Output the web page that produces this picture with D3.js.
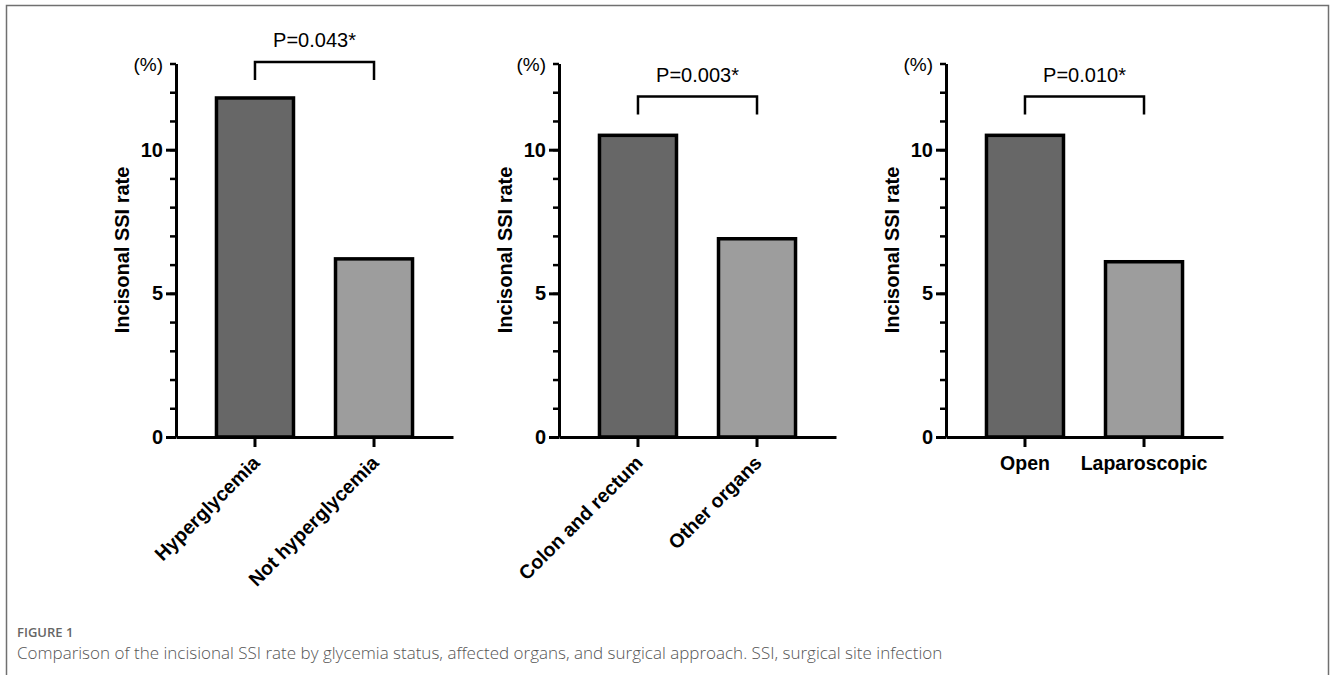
<!DOCTYPE html>
<html>
<head>
<meta charset="utf-8">
<script src="https://cdn.jsdelivr.net/npm/d3@7"></script>
<style>
  body { margin: 0; background: #fff; }
  svg { display: block; }
</style>
</head>
<body>
<div id="chart"></div>
<script>
// values
const groupCategories = [
    ["Hyperglycemia", "Not hyperglycemia"],
    ["Colon and rectum", "Other organs"],
    ["Open", "Laparoscopic"]
];
const groupRates = [
    [11.8, 6.2],
    [10.5, 6.9],
    [10.5, 6.1]
];
const pLabels = ["P=0.043*", "P=0.003*", "P=0.010*"];
const bracketLevels = [13.05, 11.85, 11.85];
const rotateLabels = [true, true, false];
const yMajorTicks = [0, 5, 10];
const yMinorTicks = d3.range(0, 14);
const yMax = 13;
const yTitle = "Incisonal SSI rate";
const yUnit = "(%)";
const barColors = ["#676767", "#9d9d9d"];
const figureLabel = "FIGURE 1";
const figureCaption = "Comparison of the incisional SSI rate by glycemia status, affected organs, and surgical approach. SSI, surgical site infection";

function init() {
    var width = 1330, height = 675;
    var font = "'Liberation Sans', Arial, Helvetica, sans-serif";

    var svg = d3.select('#chart')
                .append('svg')
                .attr('width', width)
                .attr('height', height);

    // frame round the figure
    svg.append('path')
        .attr('d', 'M6.5,700 V5.5 H1328.5 V700')
        .attr('fill', 'none')
        .attr('stroke', '#707070')
        .attr('stroke-width', 1.5);

    var axisX = [176, 559, 946];
    var plotWidth = 277;

    var yScale = d3.scaleLinear()
                    .domain([0, yMax])
                    .range([437, 63.5]);

    groupCategories.forEach(function(cats, i) {
        var g = svg.append('g')
            .attr('transform', `translate(${axisX[i]}, 0)`);

        var xScale = d3.scaleBand()
                        .domain(cats)
                        .range([0, plotWidth])
                        .paddingInner(0.353)
                        .paddingOuter(0.34);

        // bars
        g.selectAll('rect.bar')
            .data(cats)
            .enter()
            .append('rect')
            .attr('class', 'bar')
            .attr('x', d => xScale(d))
            .attr('width', xScale.bandwidth())
            .attr('y', (d, j) => yScale(groupRates[i][j]))
            .attr('height', (d, j) => yScale(0) - yScale(groupRates[i][j]))
            .attr('fill', (d, j) => barColors[j])
            .attr('stroke', '#000')
            .attr('stroke-width', 3.5);

        // minor y ticks
        g.append('g')
            .call(d3.axisLeft(yScale)
                .tickValues(yMinorTicks)
                .tickSize(6)
                .tickFormat(''))
            .call(a => a.select('.domain').remove())
            .selectAll('line')
            .attr('stroke', '#000')
            .attr('stroke-width', 2.5);

        // major y ticks + labels
        var yAxis = g.append('g')
            .call(d3.axisLeft(yScale)
                .tickValues(yMajorTicks)
                .tickSize(10)
                .tickSizeOuter(0)
                .tickPadding(3)
                .tickFormat(d3.format('d')));
        yAxis.select('.domain')
            .attr('stroke', '#000')
            .attr('stroke-width', 3);
        yAxis.selectAll('.tick line')
            .attr('stroke', '#000')
            .attr('stroke-width', 3);
        yAxis.selectAll('text')
            .attr('fill', '#000')
            .style('font-family', font)
            .style('font-weight', 'bold')
            .style('font-size', '20px');

        // x axis
        var xAxis = g.append('g')
            .attr('transform', `translate(0, ${yScale(0)})`)
            .call(d3.axisBottom(xScale)
                .tickSize(10)
                .tickSizeOuter(0)
                .tickPadding(14));
        xAxis.select('.domain')
            .attr('stroke', '#000')
            .attr('stroke-width', 3);
        xAxis.selectAll('.tick line')
            .attr('stroke', '#000')
            .attr('stroke-width', 3);
        var xText = xAxis.selectAll('text')
            .attr('fill', '#000')
            .style('font-family', font)
            .style('font-weight', 'bold')
            .style('font-size', '19.5px');
        if (rotateLabels[i]) {
            xText.attr('y', 0)
                .attr('dy', 0)
                .style('text-anchor', 'end')
                .attr('transform', 'translate(6, 27) rotate(-45)');
        } else {
            xText.attr('y', 19);
        }

        // y title
        g.append('text')
            .attr('transform', `translate(-54, 250) rotate(-90)`)
            .attr('text-anchor', 'middle')
            .attr('dy', '0.35em')
            .style('font-family', font)
            .style('font-weight', 'bold')
            .style('font-size', '20px')
            .text(yTitle);

        // unit
        g.append('text')
            .attr('x', -13)
            .attr('y', yScale(yMax) + 7)
            .attr('text-anchor', 'end')
            .style('font-family', font)
            .style('font-size', '19px')
            .text(yUnit);

        // significance bracket
        var x1 = xScale(cats[0]) + xScale.bandwidth() / 2;
        var x2 = xScale(cats[1]) + xScale.bandwidth() / 2;
        var by = yScale(bracketLevels[i]);
        g.append('path')
            .attr('d', `M${x1},${by + 18} V${by} H${x2} V${by + 18}`)
            .attr('fill', 'none')
            .attr('stroke', '#000')
            .attr('stroke-width', 2.5);
        g.append('text')
            .attr('x', (x1 + x2) / 2)
            .attr('y', by - 15)
            .attr('text-anchor', 'middle')
            .style('font-family', font)
            .style('font-size', '20px')
            .text(pLabels[i]);
    });

    // caption
    svg.append('text')
        .attr('x', 17)
        .attr('y', 637)
        .attr('fill', '#666')
        .style('font-family', "'Open Sans', sans-serif")
        .style('font-weight', 600)
        .style('font-size', '13px')
        .text(figureLabel);
    svg.append('text')
        .attr('x', 17)
        .attr('y', 659)
        .attr('fill', '#555')
        .style('font-family', "'Open Sans', sans-serif")
        .style('font-weight', 300)
        .style('font-size', '17px')
        .text(figureCaption);
}

window.onload = init;
</script>
</body>
</html>
